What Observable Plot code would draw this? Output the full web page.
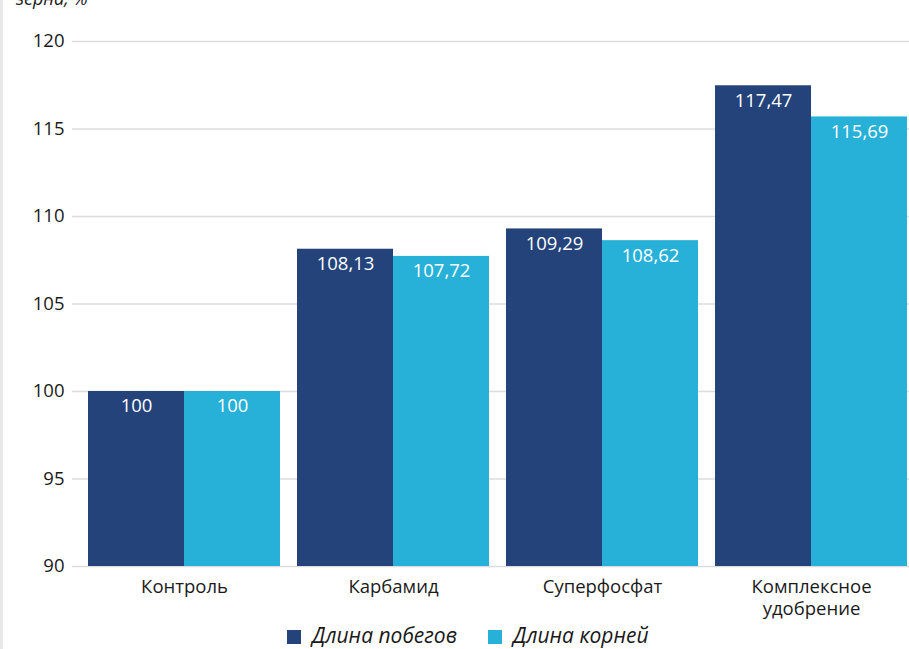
<!DOCTYPE html>
<html><head><meta charset="utf-8">
<script src="https://cdn.jsdelivr.net/npm/d3@7"></script>
<script src="https://cdn.jsdelivr.net/npm/@observablehq/plot@0.6"></script>
<style>
body{margin:0;background:#fff;font-family:"Open Sans",sans-serif;}
#wrap{position:relative;width:909px;height:649px;overflow:hidden;}
#edge{position:absolute;left:0;top:0;width:3px;height:649px;background:#e8e8e8;}
#title{position:absolute;left:16px;top:-14px;font-size:18px;font-style:italic;color:#1a1a1a;}
#chart{position:absolute;left:0;top:0;}
#legend{position:absolute;left:287px;top:620px;height:29px;display:flex;align-items:center;gap:31px;font-size:21px;font-style:italic;color:#1a1a1a;white-space:nowrap;}
#legend span.sw{display:inline-block;width:14px;height:14px;margin-right:11px;vertical-align:middle;}
</style></head>
<body><div id="wrap"><div id="edge"></div><div id="title">зерна, %</div><div id="chart"></div><div id="legend"></div></div>
<script>
const categories = ["Контроль", "Карбамид", "Суперфосфат", "Комплексное\nудобрение"];
const series = ["Длина побегов", "Длина корней"];
const shoots = [100, 108.13, 109.29, 117.47];
const roots = [100, 107.72, 108.62, 115.69];
const yTicks = [90, 95, 100, 105, 110, 115, 120];
const colors = ["#24437a", "#27b1d8"];

const fmt = v => (Math.round(v*100)/100).toString().replace(".", ",");
const dShoots = categories.map((c,i)=>({cat:c, value:shoots[i]}));
const dRoots = categories.map((c,i)=>({cat:c, value:roots[i]}));

const plot = Plot.plot({
  width: 909, height: 620,
  marginLeft: 72, marginRight: 0, marginTop: 41, marginBottom: 54,
  style: {fontFamily: "'Open Sans', sans-serif", fontSize: "18.5px", color: "#1a1a1a", background: "transparent"},
  x: {domain: categories, range: [79, 916.5], paddingInner: 0.0835, paddingOuter: 0.041, label: null},
  y: {domain: [90, 120], label: null},
  marks: [
    Plot.ruleY(yTicks, {stroke: "#dcdcdc", strokeWidth: 1.3}),
    Plot.axisY({ticks: yTicks, tickSize: 0, tickPadding: 8, label: null, fontSize: 18.5}),
    Plot.axisX({tickSize: 0, tickPadding: 11, label: null, fontSize: 18.5, lineHeight: 1.2}),
    Plot.barY(dShoots, {x: "cat", y1: 90, y2: "value", fill: colors[0], insetRight: 96}),
    Plot.barY(dRoots, {x: "cat", y1: 90, y2: "value", fill: colors[1], insetLeft: 96}),
    Plot.text(dShoots, {x: "cat", y: "value", text: d => fmt(d.value), dx: -48, dy: 15, fill: "white", fontSize: 18.5}),
    Plot.text(dRoots, {x: "cat", y: "value", text: d => fmt(d.value), dx: 48, dy: 15, fill: "white", fontSize: 18.5})
  ]
});
document.getElementById("chart").appendChild(plot);
const lg = document.getElementById("legend");
series.forEach((s,i)=>{
  const it = document.createElement("div");
  it.innerHTML = `<span class="sw" style="background:${colors[i]}"></span>${s}`;
  lg.appendChild(it);
});
</script></body></html>
